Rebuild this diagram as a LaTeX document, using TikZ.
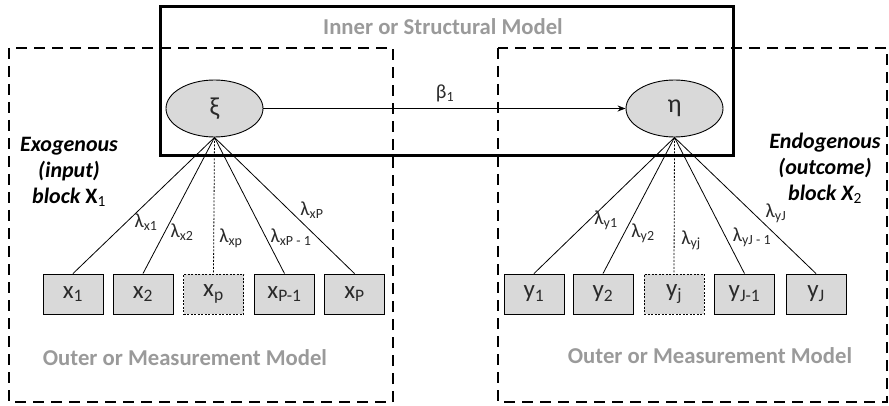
\documentclass[tikz,border=0pt]{standalone}
\usepackage{fontspec}
\setmainfont{Carlito}
\usetikzlibrary{shapes.geometric,arrows.meta}
\definecolor{boxgray}{HTML}{D9D9D9}
\definecolor{titlegray}{HTML}{9A9A9A}
\definecolor{inkgray}{HTML}{2A2A2A}
\newcommand{\lsub}[1]{\textsubscript{#1}}
\begin{document}
\begin{tikzpicture}[x=1pt,y=-1pt,
  obs/.style={draw, fill=boxgray, minimum width=60pt, minimum height=40pt, inner sep=0pt, line width=0.9pt, text=inkgray, font=\fontsize{25}{27}\selectfont},
  obsdash/.style={obs, dash pattern=on 2pt off 1.5pt},
  lat/.style={ellipse, draw, fill=boxgray, minimum width=97pt, minimum height=57pt, inner sep=0pt, line width=0.9pt, text=inkgray, font=\fontsize{26}{28}\selectfont},
  lam/.style={inner sep=0pt, text=inkgray, font=\fontsize{20}{22}\selectfont},
  conn/.style={line width=0.8pt},
  conndash/.style={line width=0.8pt, dash pattern=on 2pt off 1.5pt},
  blockbox/.style={line width=2.6pt, dash pattern=on 11pt off 7pt},
  innerbox/.style={line width=3pt},
  title/.style={inner sep=0pt, text=titlegray, font=\bfseries\fontsize{22.7}{24}\selectfont},
  side/.style={inner sep=0pt, align=center, font=\bfseries\itshape\fontsize{22}{26}\selectfont}
]
\useasboundingbox (0,0) rectangle (889,406);
% model frames
\draw[blockbox] (9,48) rectangle (393,402);
\draw[blockbox] (498,48) rectangle (887,402);
\draw[innerbox] (160,7) rectangle (733,156);
% titles
\node[title] (tin) at (443,27) {Inner or Structural Model};
\node[title] (toutl) at (185,358) {Outer or Measurement Model};
\node[title] (toutr) at (710,356) {Outer or Measurement Model};
% side labels
\node[side] (exo) at (69,172) {Exogenous\\(input)\\block {\upshape X}\lsub{\upshape\mdseries 1}};
\node[side] (endo) at (825,168) {Endogenous\\(outcome)\\block X\lsub{\upshape\mdseries 2}};
% latent variables
\node[lat] (xi) at (214.5,108.5) {ξ};
\node[lat] (eta) at (674.5,108.5) {η};
% observed variables
\node[obs] (x1) at (73,294) {x\lsub{1}};
\node[obs] (x2) at (143,294) {x\lsub{2}};
\node[obsdash] (xp) at (213.5,294) {x\lsub{p}};
\node[obs] (xP1) at (284.5,294) {x\lsub{P-1}};
\node[obs] (xP) at (354.5,294) {x\lsub{P}};
\node[obs] (y1) at (534,294) {y\lsub{1}};
\node[obs] (y2) at (603,294) {y\lsub{2}};
\node[obsdash] (yj) at (674,294) {y\lsub{j}};
\node[obs] (yJ1) at (744.5,294) {y\lsub{J-1}};
\node[obs] (yJ) at (816,294) {y\lsub{J}};
% structural path
\draw[conn, -{Stealth[length=8pt,width=6pt]}] (xi) -- (eta);
\node[lam] (beta) at (445,93) {β\lsub{1}};
% loadings
\draw[conn] (xi.south) -- (x1.north);
\draw[conn] (xi.south) -- (x2.north);
\draw[conndash] (xi.south) -- (xp.north);
\draw[conn] (xi.south) -- (xP1.north);
\draw[conn] (xi.south) -- (xP.north);
\draw[conn] (eta.south) -- (y1.north);
\draw[conn] (eta.south) -- (y2.north);
\draw[conndash] (eta.south) -- (yj.north);
\draw[conn] (eta.south) -- (yJ1.north);
\draw[conn] (eta.south) -- (yJ.north);
% loading labels
\node[lam] (lx1) at (146,222) {λ\lsub{x1}};
\node[lam] (lx2) at (182,232) {λ\lsub{x2}};
\node[lam] (lxp) at (231,238) {λ\lsub{xp}};
\node[lam] (lxP1) at (291,237) {λ\lsub{xP - 1}};
\node[lam] (lxP) at (312,210) {λ\lsub{xP}};
\node[lam] (ly1) at (606,220) {λ\lsub{y1}};
\node[lam] (ly2) at (643,233) {λ\lsub{y2}};
\node[lam] (lyj) at (691,240) {λ\lsub{yj}};
\node[lam] (lyJ1) at (752,237) {λ\lsub{yJ - 1}};
\node[lam] (lyJ) at (776,213) {λ\lsub{yJ}};
\end{tikzpicture}
\end{document}
